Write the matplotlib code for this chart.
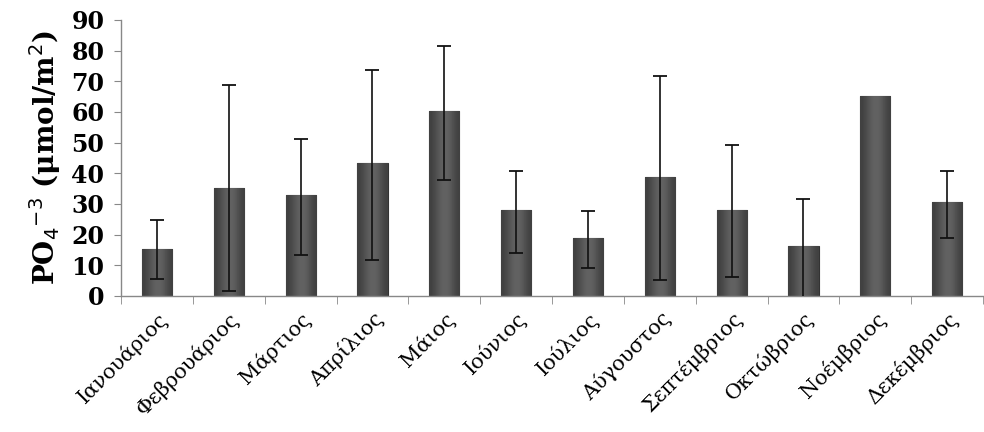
import numpy as np
import matplotlib.pyplot as plt

months = ["Ιανουάριος", "Φεβρουάριος", "Μάρτιος", "Απρίλιος", "Μάιος", "Ιούνιος",
          "Ιούλιος", "Αύγουστος", "Σεπτέμβριος", "Οκτώβριος", "Νοέμβριος", "Δεκέμβριος"]
po4_mean = [15.3, 35.3, 32.9, 43.3, 60.3, 28.0, 18.9, 38.8, 28.0, 16.3, 65.2, 30.6]
err_low = [9.7, 33.7, 19.6, 31.6, 22.5, 13.9, 9.7, 33.6, 21.8, 17.5, 0.0, 11.7]
err_high = [9.5, 33.5, 18.3, 30.4, 21.3, 12.8, 8.8, 32.9, 21.2, 15.3, 0.0, 10.2]
yticks = [0, 10, 20, 30, 40, 50, 60, 70, 80, 90]

fig = plt.figure(figsize=(9.84, 4.32), dpi=100)
ax = fig.add_axes([0.123, 0.315, 0.876, 0.639])

x = np.arange(len(months))
bars = ax.bar(x, po4_mean, width=0.42, color="#4a4a4a", edgecolor="#333333",
              linewidth=0.8, zorder=2)

# horizontal shading on each bar to mimic the glossy look
grad = np.array([[0.25, 0.34, 0.40, 0.36, 0.25]])
for b in bars:
    bx, by = b.get_x(), b.get_y()
    w, h = b.get_width(), b.get_height()
    im = ax.imshow(grad, cmap="gray", vmin=0, vmax=1, aspect="auto",
                   extent=[bx, bx + w, by, by + h], interpolation="bicubic", zorder=2)
    im.set_clip_path(b)

has_err = np.array(err_high) > 0
yerr = np.array([err_low, err_high])[:, has_err]
ax.errorbar(x[has_err], np.array(po4_mean)[has_err], yerr=yerr,
            fmt="none", ecolor="#111111", elinewidth=1.2, capsize=5, capthick=1.3, zorder=3)

ax.set_xlim(-0.5, len(months) - 0.5)
ax.set_ylim(0, 90)
ax.set_yticks(yticks)
ax.set_yticklabels([str(v) for v in yticks], fontfamily="DejaVu Serif",
                   fontweight="bold", fontsize=17)
ax.set_xticks(x)
ax.set_xticklabels(months, rotation=45, ha="right", rotation_mode="anchor",
                   fontfamily="DejaVu Serif", fontsize=15)
ax.set_xticks(np.arange(-0.5, len(months)), minor=True)
ax.tick_params(axis="x", which="major", length=0, pad=9)
ax.tick_params(axis="x", which="minor", length=6, color="#888888", direction="out")
ax.tick_params(axis="y", length=5, color="#888888", direction="out", pad=7)

for side in ["top", "right"]:
    ax.spines[side].set_visible(False)
for side in ["left", "bottom"]:
    ax.spines[side].set_color("#888888")
    ax.spines[side].set_linewidth(1.0)

ax.set_ylabel("PO$_4$$^{-3}$ (μmol/m$^2$)", fontsize=20, fontweight="bold",
              fontfamily="DejaVu Serif", labelpad=6)

fig.savefig("out.png", dpi=100)
